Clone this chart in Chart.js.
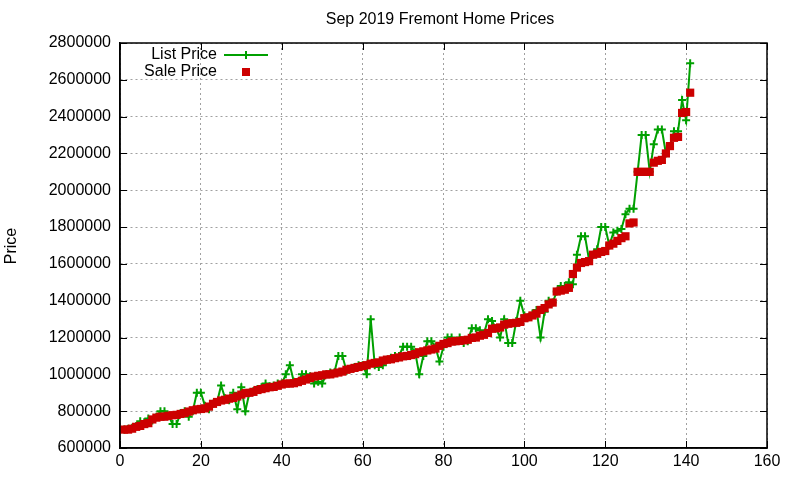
<!DOCTYPE html>
<html><head><meta charset="utf-8">
<script src="https://cdn.jsdelivr.net/npm/chart.js@4"></script>
<style>html,body{margin:0;padding:0;background:#fff}#wrap{width:800px;height:480px}</style>
</head><body><div id="wrap"><canvas id="c"></canvas></div>
<script>
const titleText = "Sep 2019 Fremont Home Prices";
const yTitle = "Price";
const seriesNames = ["List Price", "Sale Price"];
const xTicks = [0,20,40,60,80,100,120,140,160];
const yTicks = [600000,800000,1000000,1200000,1400000,1600000,1800000,2000000,2200000,2400000,2600000,2800000];
const listPrice = [700000,705000,710000,720000,745000,740000,760000,750000,770000,800000,
800000,775000,730000,730000,790000,800000,770000,800000,900000,900000,
830000,810000,840000,850000,940000,870000,860000,900000,810000,930000,
800000,900000,910000,920000,930000,950000,935000,940000,950000,950000,
1000000,1050000,960000,960000,1000000,1000000,990000,950000,960000,950000,
1000000,1010000,1010000,1100000,1100000,1020000,1030000,1040000,1050000,1050000,
1000000,1300000,1050000,1040000,1050000,1080000,1090000,1100000,1100000,1150000,
1150000,1150000,1120000,1000000,1100000,1180000,1180000,1150000,1070000,1150000,
1200000,1200000,1180000,1200000,1170000,1180000,1250000,1250000,1240000,1220000,
1300000,1290000,1250000,1200000,1300000,1170000,1170000,1290000,1400000,1320000,
1310000,1330000,1350000,1200000,1340000,1400000,1390000,1450000,1480000,1480000,
1500000,1490000,1650000,1750000,1750000,1620000,1650000,1680000,1800000,1800000,
1700000,1770000,1780000,1790000,1870000,1900000,1900000,2100000,2300000,2300000,
2100000,2250000,2330000,2330000,2200000,2240000,2320000,2320000,2490000,2380000,
2690000];
const salePrice = [700000,700000,705000,715000,720000,730000,735000,755000,765000,770000,
770000,775000,778000,780000,785000,790000,798000,805000,810000,812000,
815000,825000,840000,850000,858000,862000,868000,872000,880000,890000,
898000,900000,905000,915000,920000,925000,930000,932000,938000,945000,
950000,950000,952000,958000,965000,972000,980000,988000,992000,995000,
1000000,1000000,1005000,1010000,1015000,1025000,1030000,1035000,1040000,1045000,
1050000,1058000,1062000,1065000,1075000,1080000,1082000,1088000,1092000,1098000,
1100000,1105000,1110000,1120000,1125000,1130000,1135000,1140000,1155000,1165000,
1170000,1178000,1180000,1182000,1185000,1188000,1198000,1200000,1210000,1215000,
1225000,1248000,1250000,1255000,1270000,1275000,1278000,1280000,1285000,1305000,
1310000,1320000,1330000,1350000,1360000,1380000,1390000,1450000,1455000,1460000,
1470000,1545000,1580000,1605000,1610000,1615000,1650000,1655000,1665000,1670000,
1700000,1710000,1725000,1740000,1750000,1820000,1825000,2100000,2100000,2100000,
2100000,2150000,2160000,2165000,2200000,2240000,2285000,2290000,2420000,2425000,
2530000];

const GREEN = '#00a000', RED = '#cc0000';
const FONT = '"Liberation Sans", Arial, sans-serif';
const listPts = listPrice.map((v,i)=>({x:i+1,y:v}));
const salePts = salePrice.map((v,i)=>({x:i+1,y:v}));

const deco = {
  id:'deco',
  afterDraw(chart){
    const ctx = chart.ctx, a = chart.chartArea;
    const xs = chart.scales.x, ys = chart.scales.y;
    ctx.save();
    ctx.strokeStyle = '#000'; ctx.lineWidth = 1;
    ctx.beginPath();
    xTicks.forEach(t=>{const p=Math.round(xs.getPixelForValue(t))+0.5;
      ctx.moveTo(p,a.bottom); ctx.lineTo(p,a.bottom-7);
      ctx.moveTo(p,a.top); ctx.lineTo(p,a.top+7);});
    yTicks.forEach(t=>{const p=Math.round(ys.getPixelForValue(t))+0.5;
      ctx.moveTo(a.left,p); ctx.lineTo(a.left+7,p);
      ctx.moveTo(a.right,p); ctx.lineTo(a.right-7,p);});
    ctx.stroke();
    ctx.lineWidth = 1.5;
    ctx.strokeRect(a.left, a.top, a.right-a.left, a.bottom-a.top);
    // title
    ctx.fillStyle = '#000';
    ctx.font = '16px ' + FONT;
    ctx.textAlign = 'center'; ctx.textBaseline = 'middle';
    ctx.fillText(titleText, 440, 20);
    // y title
    ctx.save();
    ctx.translate(12, 246); ctx.rotate(-Math.PI/2);
    ctx.font = '16px ' + FONT;
    ctx.fillText(yTitle, 0, 0);
    ctx.restore();
    // legend
    ctx.font = '16px ' + FONT;
    ctx.textAlign = 'right';
    ctx.fillText(seriesNames[0], 217, 55);
    ctx.fillText(seriesNames[1], 217, 72);
    ctx.strokeStyle = GREEN; ctx.lineWidth = 2;
    ctx.beginPath(); ctx.moveTo(224,55); ctx.lineTo(268,55);
    ctx.moveTo(246,51); ctx.lineTo(246,59); ctx.stroke();
    ctx.fillStyle = RED; ctx.fillRect(242,68,8,8);
    ctx.restore();
  }
};

new Chart(document.getElementById('c'), {
  type:'line',
  data:{datasets:[
    {label:seriesNames[0], data:listPts, borderColor:GREEN, backgroundColor:GREEN, borderWidth:2,
     pointStyle:'cross', pointRadius:4, pointBorderWidth:2, pointBorderColor:GREEN, tension:0, order:2},
    {label:seriesNames[1], data:salePts, showLine:false, pointStyle:'rect', pointRadius:5.8,
     pointBackgroundColor:RED, pointBorderColor:RED, pointBorderWidth:0, backgroundColor:RED, borderColor:RED, order:1}
  ]},
  options:{
    responsive:true, maintainAspectRatio:false, animation:false,
    layout:{padding:{top:43,right:33,left:0,bottom:0}},
    plugins:{legend:{display:false}, title:{display:false}, tooltip:{enabled:false}},
    scales:{
      x:{type:'linear', min:0, max:160,
         afterBuildTicks(s){s.ticks = xTicks.map(v=>({value:v}));},
         afterFit(s){s.height = 32;},
         ticks:{color:'#000', font:{family:FONT,size:16}, padding:4, maxRotation:0},
         grid:{color:'#a0a0a0', lineWidth:1, drawTicks:false},
         border:{display:true, color:'#000', width:1.5, dash:[2,3]}},
      y:{type:'linear', min:600000, max:2800000,
         afterBuildTicks(s){s.ticks = yTicks.map(v=>({value:v}));},
         afterFit(s){s.width = 120;},
         ticks:{color:'#000', font:{family:FONT,size:16}, padding:9, callback:v=>String(v)},
         grid:{color:'#a0a0a0', lineWidth:1, drawTicks:false},
         border:{display:true, color:'#000', width:1.5, dash:[2,3]}}
    }
  },
  plugins:[deco]
});
</script></body></html>
